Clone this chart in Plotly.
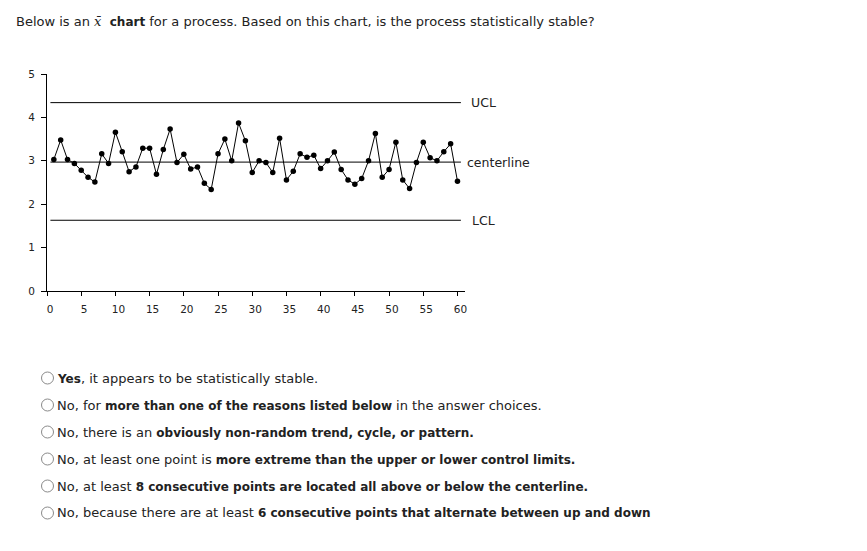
import plotly.graph_objects as go

# ---------------- data ----------------
sample = list(range(1, 61))
xbar = [3.03, 3.48, 3.03, 2.94, 2.78, 2.62, 2.51, 3.16, 2.94, 3.66,
        3.21, 2.75, 2.86, 3.29, 3.29, 2.69, 3.26, 3.73, 2.96, 3.15,
        2.81, 2.86, 2.48, 2.34, 3.16, 3.50, 3.00, 3.87, 3.46, 2.73,
        3.00, 2.96, 2.73, 3.52, 2.56, 2.76, 3.16, 3.08, 3.13, 2.82,
        3.00, 3.20, 2.80, 2.56, 2.46, 2.59, 3.00, 3.63, 2.62, 2.80,
        3.43, 2.56, 2.36, 2.96, 3.43, 3.07, 3.00, 3.21, 3.39, 2.53]
limit_x = [0.5, 60.5]
ucl = 4.34
centerline = 2.97
lcl = 1.63
limit_names = ["UCL", "centerline", "LCL"]
x_ticks = list(range(0, 61, 5))
y_ticks = [0, 1, 2, 3, 4, 5]

B = "<span style='font-size:12px'><b>"
E = "</b></span>"
question = ("Below is an <span style='font-family:DejaVu Serif'><i>x\u0304</i></span>  "
            + B + "chart" + E + " for a process. Based on this chart, is the process statistically stable?")
answers = [
    B + "Yes" + E + ", it appears to be statistically stable.",
    "No, for " + B + "more than one of the reasons listed below" + E + " in the answer choices.",
    "No, there is an " + B + "obviously non-random trend, cycle, or pattern." + E,
    "No, at least one point is " + B + "more extreme than the upper or lower control limits." + E,
    "No, at least " + B + "8 consecutive points are located all above or below the centerline." + E,
    "No, because there are at least " + B + "6 consecutive points that alternate between up and down" + E,
]

# ---------------- layout geometry (page has an 8px body margin) ----------------
OFF = 8
W, H = 867 - 2 * OFF, 551 - 2 * OFF
ML, MT = 47 - OFF, 74 - OFF
MR = W - (465 - OFF)
MB = H - (291 - OFF)
PW, PH = W - ML - MR, H - MT - MB


def px(xp):
    return (xp - OFF - ML) / PW


def py(yp):
    return 1 - (yp - OFF - MT) / PH


FONT = "DejaVu Sans"
TXT = "#222222"

fig = go.Figure()

for val in [ucl, centerline, lcl]:
    fig.add_trace(go.Scatter(x=limit_x, y=[val, val], mode="lines",
                             line=dict(color="black", width=1),
                             hoverinfo="skip", showlegend=False))

fig.add_trace(go.Scatter(x=sample, y=xbar, mode="lines+markers",
                         line=dict(color="black", width=1),
                         marker=dict(color="black", size=5.5),
                         cliponaxis=False, showlegend=False))

annotations = []
for name, val, shift in zip(limit_names, [ucl, centerline, lcl], [8, 4, 9]):
    annotations.append(dict(x=limit_x[1], y=val, xref="x", yref="y", text=name,
                            showarrow=False, xanchor="left", yanchor="middle",
                            xshift=shift, font=dict(family=FONT, size=12.5, color=TXT)))

annotations.append(dict(x=px(14), y=py(22), xref="paper", yref="paper", text=question,
                        showarrow=False, xanchor="left", yanchor="middle",
                        font=dict(family=FONT, size=13, color=TXT)))

shapes = []
row_y = [378, 405, 432, 459, 486, 513]
for txt, yy in zip(answers, row_y):
    annotations.append(dict(x=px(55), y=py(yy), xref="paper", yref="paper", text=txt,
                            showarrow=False, xanchor="left", yanchor="middle",
                            font=dict(family=FONT, size=13, color=TXT)))
    shapes.append(dict(type="circle", xref="paper", yref="paper",
                       x0=px(41.5), x1=px(53.5), y0=py(yy + 6), y1=py(yy - 6),
                       line=dict(color="#8a8a8a", width=1), fillcolor="white"))

fig.update_layout(
    width=W, height=H,
    margin=dict(l=ML, r=MR, t=MT, b=MB),
    paper_bgcolor="white", plot_bgcolor="white",
    annotations=annotations, shapes=shapes,
    xaxis=dict(range=[0, 61.1], tickvals=x_ticks, showgrid=False, zeroline=False,
               showline=True, linecolor="black", linewidth=1,
               ticks="outside", ticklen=4, tickcolor="black", ticklabelstandoff=4,
               tickfont=dict(family=FONT, size=10.5, color=TXT), ticklabelshift=3),
    yaxis=dict(range=[0, 5], tickvals=y_ticks, showgrid=False, zeroline=False,
               showline=True, linecolor="black", linewidth=1,
               ticks="outside", ticklen=5, tickcolor="black", ticklabelstandoff=4,
               tickfont=dict(family=FONT, size=10.5, color=TXT)),
)

fig.write_html("out.html")
